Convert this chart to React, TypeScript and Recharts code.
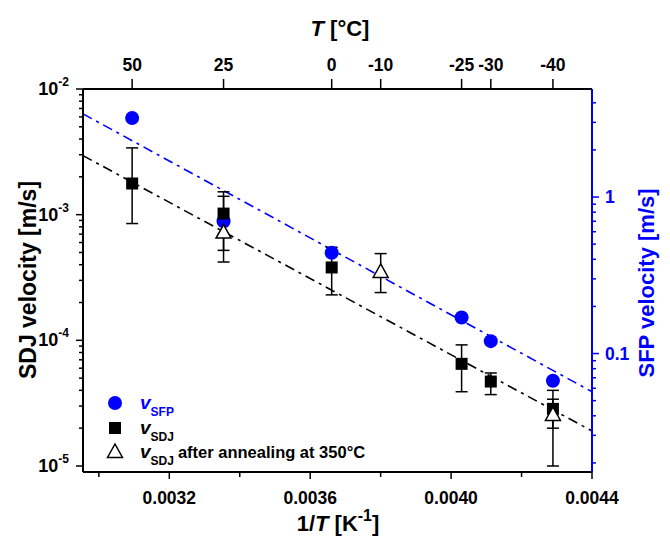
import React from 'react'
import { ComposedChart, Scatter, Line, XAxis, YAxis, ErrorBar, Legend } from 'recharts'

const FONT = '"Liberation Sans", Arial, sans-serif'
const BLUE = '#0000ff'

// temperatures in °C, velocities in m/s
const sfpTemps = [50, 25, 0, -25, -30, -40]
const sfpVelocity = [3.2, 0.7, 0.44, 0.17, 0.12, 0.067]

const sdjTemps = [50, 25, 0, -25, -30, -40]
const sdjVelocity = [1.77e-3, 1.02e-3, 3.8e-4, 6.5e-5, 4.7e-5, 2.85e-5]
const sdjLow = [8.5e-4, 5.2e-4, 2.3e-4, 3.9e-5, 3.7e-5, 2.0e-5]
const sdjHigh = [3.4e-3, 1.52e-3, 5.5e-4, 9.2e-5, 5.5e-5, 4.0e-5]

const annealTemps = [25, -10, -40]
const annealVelocity = [7.2e-4, 3.5e-4, 2.55e-5]
const annealLow = [4.2e-4, 2.4e-4, 1.0e-5]
const annealHigh = [1.4e-3, 4.9e-4, 3.4e-5]

// dash-dot fits, read at the left and right plot edges
const fitInvT = [0.002955, 0.0044]
const sdjFit = [2.95e-3, 1.9e-5]
const sfpFit = [3.4, 0.057]

const topTemps = [50, 25, 0, -10, -25, -30, -40]
const bottomTicks = [0.003, 0.0032, 0.0034, 0.0036, 0.0038, 0.004, 0.0042, 0.0044]
const bottomLabeled = [0.0032, 0.0036, 0.004, 0.0044]
const leftDecades = [-5, -4, -3, -2]
const rightDecades = [-2, -1, 0]
const minorSteps = [1, 2, 3, 4, 5, 6, 7, 8, 9]

const invT = (t: number) => 1 / (t + 273.15)

const sfpData = sfpTemps.map((t, i) => ({ x: invT(t), y: sfpVelocity[i] }))
const sdjData = sdjTemps.map((t, i) => ({
  x: invT(t),
  y: sdjVelocity[i],
  err: [sdjVelocity[i] - sdjLow[i], sdjHigh[i] - sdjVelocity[i]],
}))
const annealData = annealTemps.map((t, i) => ({
  x: invT(t),
  y: annealVelocity[i],
  err: [annealVelocity[i] - annealLow[i], annealHigh[i] - annealVelocity[i]],
}))
const sdjFitData = fitInvT.map((x, i) => ({ x, y: sdjFit[i] }))
const sfpFitData = fitInvT.map((x, i) => ({ x, y: sfpFit[i] }))

const LEFT_DOMAIN = [8.96e-6, 1e-2]
const RIGHT_DOMAIN = [0.0175, 4.9]
const X_DOMAIN = [0.002955, 0.0044]

const leftTicks = leftDecades.flatMap((d) => minorSteps.map((m) => m * Math.pow(10, d)))
  .filter((v) => v >= LEFT_DOMAIN[0] && v <= LEFT_DOMAIN[1] * 1.0001)
const rightTicks = rightDecades.flatMap((d) => minorSteps.map((m) => m * Math.pow(10, d)))
  .filter((v) => v >= RIGHT_DOMAIN[0] && v <= RIGHT_DOMAIN[1])

const isDecade = (v: number) => Math.abs(Math.log10(v) - Math.round(Math.log10(v))) < 1e-6

const LeftTick = ({ x, y, payload }: any) => {
  const v = payload.value
  const major = isDecade(v)
  return (
    <g>
      <line x1={x} x2={x - (major ? 7 : 4)} y1={y} y2={y} stroke="#000" strokeWidth={1.5} />
      {major && (
        <text x={x - 14} y={y + 6} textAnchor="end" fontFamily={FONT} fontWeight="bold" fontSize={18} fill="#000">
          10<tspan dy={-9} fontSize={12}>{Math.round(Math.log10(v))}</tspan>
        </text>
      )}
    </g>
  )
}

const RightTick = ({ x, y, payload }: any) => {
  const v = payload.value
  const major = isDecade(v) && v > 0.05
  return (
    <g>
      <line x1={x} x2={x + (major ? 7 : 4)} y1={y} y2={y} stroke={BLUE} strokeWidth={1.5} />
      {major && (
        <text x={x + 13} y={y + 6} textAnchor="start" fontFamily={FONT} fontWeight="bold" fontSize={17.5} fill={BLUE}>
          {v >= 1 ? '1' : '0.1'}
        </text>
      )}
    </g>
  )
}

const BottomTick = ({ x, y, payload }: any) => {
  const v = payload.value
  const major = bottomLabeled.some((b) => Math.abs(b - v) < 1e-9)
  return (
    <g>
      <line x1={x} x2={x} y1={y} y2={y + (major ? 7 : 5)} stroke="#000" strokeWidth={1.5} />
      {major && (
        <text x={x} y={y + 32} textAnchor="middle" fontFamily={FONT} fontWeight="bold" fontSize={17.5} fill="#000">
          {v.toFixed(4)}
        </text>
      )}
    </g>
  )
}

const TopTick = ({ x, y, payload }: any) => (
  <g>
    <line x1={x} x2={x} y1={y} y2={y - 10} stroke="#000" strokeWidth={1.5} />
    <text x={x} y={y - 18} textAnchor="middle" fontFamily={FONT} fontWeight="bold" fontSize={17.5} fill="#000">
      {Math.round(1 / payload.value - 273.15)}
    </text>
  </g>
)

const Dot = ({ cx, cy }: any) => <circle cx={cx} cy={cy} r={7} fill={BLUE} />
const Sq = ({ cx, cy }: any) => <rect x={cx - 6} y={cy - 6} width={12} height={12} fill="#000" />
const Tri = ({ cx, cy }: any) => (
  <path d={`M${cx},${cy - 8}L${cx + 7.5},${cy + 5.5}L${cx - 7.5},${cy + 5.5}Z`} fill="#fff" stroke="#000" strokeWidth={1.5} />
)

const legendRow = (y: number, color: string, sub: string, rest?: string) => (
  <text x={35} y={y + 6} fontFamily={FONT} fontWeight="bold" fontSize={17} fill={color}>
    <tspan fontStyle="italic" fontSize={19}>v</tspan>
    <tspan dy={7} fontSize={12}>{sub}</tspan>
    {rest && <tspan dy={-7} dx={4} fontSize={16.5}>{rest}</tspan>}
  </text>
)

const renderLegend = () => (
  <svg width={300} height={80}>
    <circle cx={10} cy={10} r={7} fill={BLUE} />
    {legendRow(10, BLUE, 'SFP')}
    <rect x={4} y={29} width={12} height={12} fill="#000" />
    {legendRow(35, '#000', 'SDJ')}
    <path d="M10,51L17.5,64.5L2.5,64.5Z" fill="#fff" stroke="#000" strokeWidth={1.5} />
    {legendRow(59, '#000', 'SDJ', 'after annealing at 350°C')}
  </svg>
)

export default function App() {
  return (
    <div style={{ position: 'fixed', left: 0, top: 0, width: 670, height: 540, background: '#fff' }}>
      <ComposedChart width={670} height={540} margin={{ top: 0, right: 0, bottom: 0, left: 0 }}>
        <XAxis
          xAxisId="bottom"
          type="number"
          dataKey="x"
          domain={X_DOMAIN}
          allowDataOverflow
          ticks={bottomTicks}
          interval={0}
          tick={<BottomTick />}
          tickLine={false}
          tickSize={0}
          tickMargin={0}
          height={68}
          axisLine={{ stroke: '#000', strokeWidth: 2 }}
          label={{
            content: () => (
              <text x={338} y={531} textAnchor="middle" fontFamily={FONT} fontWeight="bold" fontSize={22} fill="#000">
                1/<tspan fontStyle="italic">T</tspan> [K<tspan dy={-10} fontSize={16}>-1</tspan><tspan dy={10}>]</tspan>
              </text>
            ),
          }}
        />
        <XAxis
          xAxisId="top"
          orientation="top"
          type="number"
          dataKey="x"
          domain={X_DOMAIN}
          allowDataOverflow
          ticks={topTemps.map(invT)}
          interval={0}
          tick={<TopTick />}
          tickLine={false}
          tickSize={0}
          tickMargin={0}
          height={89}
          axisLine={{ stroke: '#000', strokeWidth: 2 }}
          label={{
            content: () => (
              <text x={340} y={36} textAnchor="middle" fontFamily={FONT} fontWeight="bold" fontSize={22} fill="#000">
                <tspan fontStyle="italic">T</tspan> [°C]
              </text>
            ),
          }}
        />
        <YAxis
          yAxisId="left"
          scale="log"
          type="number"
          domain={LEFT_DOMAIN}
          allowDataOverflow
          ticks={leftTicks}
          interval={0}
          tick={<LeftTick />}
          tickLine={false}
          tickSize={0}
          tickMargin={0}
          width={83}
          axisLine={{ stroke: '#000', strokeWidth: 2 }}
          label={{
            content: () => (
              <text transform="translate(36,280) rotate(-90)" textAnchor="middle" fontFamily={FONT} fontWeight="bold" fontSize={23} fill="#000">
                SDJ velocity [m/s]
              </text>
            ),
          }}
        />
        <YAxis
          yAxisId="right"
          orientation="right"
          scale="log"
          type="number"
          domain={RIGHT_DOMAIN}
          allowDataOverflow
          ticks={rightTicks}
          interval={0}
          tick={<RightTick />}
          tickLine={false}
          tickSize={0}
          tickMargin={0}
          width={78}
          axisLine={{ stroke: BLUE, strokeWidth: 2 }}
          label={{
            content: () => (
              <text transform="translate(654,283) rotate(-90)" textAnchor="middle" fontFamily={FONT} fontWeight="bold" fontSize={22} fill={BLUE}>
                SFP velocity [m/s]
              </text>
            ),
          }}
        />
        <Line
          data={sfpFitData}
          xAxisId="bottom"
          yAxisId="right"
          dataKey="y"
          stroke={BLUE}
          strokeWidth={1.6}
          strokeDasharray="10 5 3 5"
          dot={false}
          isAnimationActive={false}
          legendType="none"
        />
        <Line
          data={sdjFitData}
          xAxisId="bottom"
          yAxisId="left"
          dataKey="y"
          stroke="#000"
          strokeWidth={1.6}
          strokeDasharray="10 5 3 5"
          dot={false}
          isAnimationActive={false}
          legendType="none"
        />
        <Scatter data={sfpData} xAxisId="bottom" yAxisId="right" dataKey="y" shape={<Dot />} isAnimationActive={false} />
        <Scatter data={sdjData} xAxisId="bottom" yAxisId="left" dataKey="y" shape={<Sq />} isAnimationActive={false}>
          <ErrorBar dataKey="err" direction="y" width={6} stroke="#000" strokeWidth={1.5} />
        </Scatter>
        <Scatter data={annealData} xAxisId="bottom" yAxisId="left" dataKey="y" shape={<Tri />} isAnimationActive={false}>
          <ErrorBar dataKey="err" direction="y" width={6} stroke="#000" strokeWidth={1.5} />
        </Scatter>
        <Legend
          layout="vertical"
          align="center"
          verticalAlign="middle"
          content={renderLegend}
          wrapperStyle={{ left: 105, top: 393, width: 300, height: 80 }}
        />
      </ComposedChart>
    </div>
  )
}
